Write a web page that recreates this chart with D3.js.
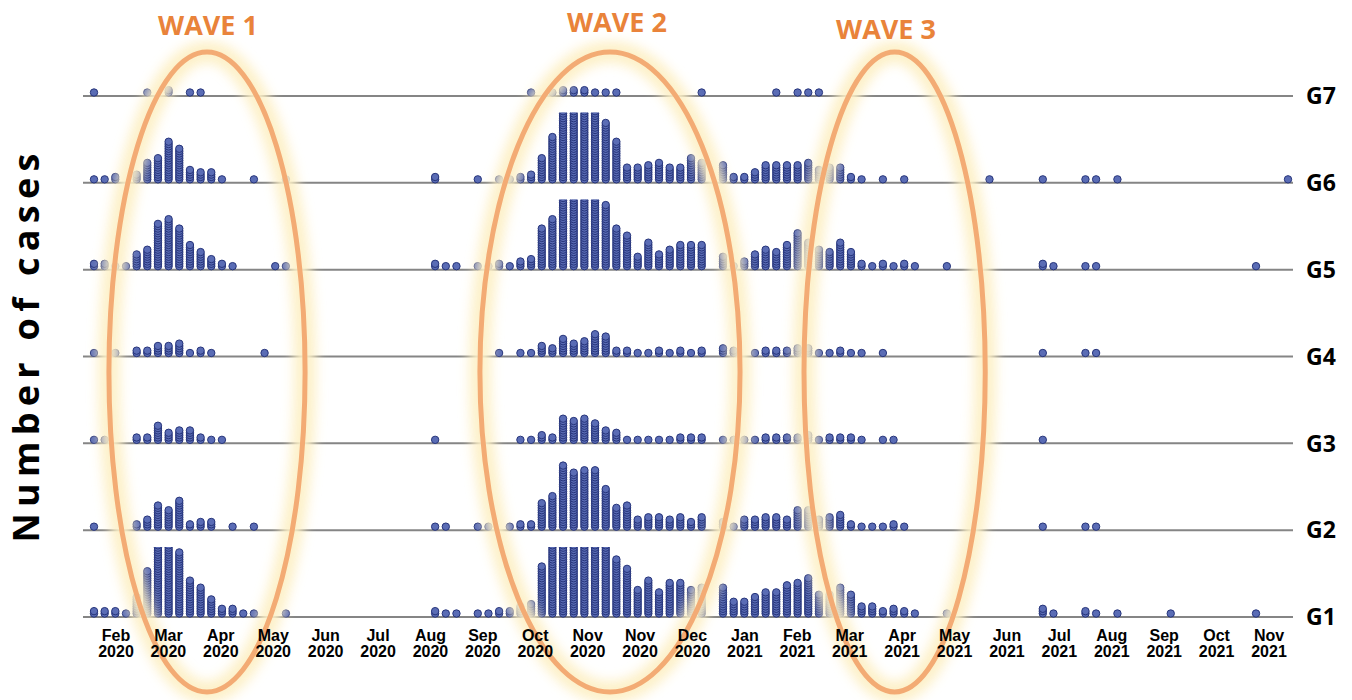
<!DOCTYPE html>
<html>
<head>
<meta charset="utf-8">
<script src="https://cdn.jsdelivr.net/npm/d3@7"></script>
<style>
  body { margin: 0; background: #fff; }
  svg { display: block; }
</style>
</head>
<body>
<script>
// groups, bottom to top
const groups = ["G1", "G2", "G3", "G4", "G5", "G6", "G7"];

// weekly case counts per group: [week index, cases]
const g1 = [[0,2],[1,2],[2,2],[3,1],[4,8],[5,19],[6,30],[7,30],[8,27],[9,15],[10,12],[11,7],[12,3],[13,3],[14,1],[15,1],[18,1],[32,2],[33,1],[34,1],[36,1],[37,1],[38,2],[39,2],[40,4],[41,5],[42,21],[43,30],[44,30],[45,30],[46,30],[47,30],[48,30],[49,24],[50,20],[51,11],[52,15],[53,10],[54,14],[55,14],[56,11],[57,12],[59,12],[60,6],[61,6],[62,8],[63,10],[64,10],[65,13],[66,14],[67,16],[68,9],[69,9],[70,12],[71,9],[72,4],[73,4],[74,2],[75,3],[76,2],[77,1],[80,1],[89,3],[90,1],[93,2],[94,1],[96,1],[101,1],[109,1]];
const g2 = [[0,1],[4,2],[5,4],[6,10],[7,8],[8,12],[9,2],[10,3],[11,3],[13,1],[15,1],[32,1],[33,1],[36,1],[37,1],[39,1],[40,2],[41,2],[42,11],[43,14],[44,27],[45,24],[46,25],[47,25],[48,17],[49,9],[50,10],[51,4],[52,5],[53,5],[54,4],[55,5],[56,3],[57,5],[59,3],[60,1],[61,4],[62,4],[63,5],[64,5],[65,4],[66,8],[67,8],[68,4],[69,5],[70,6],[71,2],[72,1],[73,1],[74,1],[75,2],[76,1],[89,1],[93,1],[94,1]];
const g3 = [[0,1],[1,1],[4,2],[5,2],[6,7],[7,4],[8,5],[9,5],[10,2],[11,1],[12,1],[32,1],[40,1],[41,1],[42,3],[43,2],[44,10],[45,9],[46,10],[47,8],[48,5],[49,4],[50,1],[51,1],[52,1],[53,1],[54,1],[55,2],[56,2],[57,2],[59,1],[60,1],[61,1],[62,1],[63,2],[64,2],[65,2],[66,2],[67,3],[68,1],[69,2],[70,2],[71,2],[72,1],[74,1],[75,1],[89,1]];
const g4 = [[0,1],[2,1],[4,2],[5,2],[6,4],[7,4],[8,5],[9,1],[10,2],[11,1],[16,1],[38,1],[40,1],[41,1],[42,4],[43,3],[44,7],[45,5],[46,6],[47,9],[48,8],[49,2],[50,2],[51,1],[52,1],[53,2],[54,1],[55,2],[56,1],[57,2],[59,3],[60,2],[62,1],[63,2],[64,2],[65,2],[66,3],[67,3],[68,1],[69,1],[70,2],[71,1],[72,1],[74,1],[89,1],[93,1],[94,1]];
const g5 = [[0,2],[1,2],[2,1],[3,1],[4,6],[5,8],[6,19],[7,21],[8,17],[9,10],[10,7],[11,4],[12,2],[13,1],[17,1],[18,1],[32,2],[33,1],[34,1],[36,1],[37,1],[38,2],[39,1],[40,3],[41,4],[42,17],[43,21],[44,30],[45,30],[46,30],[47,30],[48,27],[49,17],[50,14],[51,5],[52,11],[53,6],[54,8],[55,10],[56,10],[57,10],[59,5],[60,1],[61,3],[62,6],[63,8],[64,7],[65,10],[66,15],[67,11],[68,8],[69,7],[70,11],[71,7],[72,2],[73,1],[74,2],[75,1],[76,2],[77,1],[80,1],[89,2],[90,1],[93,1],[94,1],[109,1]];
const g6 = [[0,1],[1,1],[2,2],[4,3],[5,8],[6,10],[7,17],[8,14],[9,5],[10,4],[11,4],[12,1],[15,1],[18,1],[32,2],[36,1],[38,1],[39,1],[40,2],[41,3],[42,10],[43,19],[44,30],[45,30],[46,30],[47,30],[48,25],[49,17],[50,6],[51,6],[52,7],[53,8],[54,6],[55,6],[56,10],[57,8],[59,7],[60,2],[61,2],[62,4],[63,7],[64,7],[65,7],[66,7],[67,8],[68,5],[69,6],[70,6],[71,2],[72,1],[74,1],[76,1],[84,1],[89,1],[93,1],[94,1],[96,1],[112,1]];
const g7 = [[0,1],[5,1],[7,2],[9,1],[10,1],[41,1],[43,1],[44,2],[45,2],[46,2],[47,1],[48,1],[49,1],[57,1],[64,1],[66,1],[67,1],[68,1]];
const series = [g1, g2, g3, g4, g5, g6, g7];

// x axis tick labels (as printed)
const monthLabels = ["Feb","Mar","Apr","May","Jun","Jul","Aug","Sep","Oct","Nov","Nov","Dec","Jan","Feb","Mar","Apr","May","Jun","Jul","Aug","Sep","Oct","Nov"];
const yearLabels  = ["2020","2020","2020","2020","2020","2020","2020","2020","2020","2020","2020","2020","2021","2021","2021","2021","2021","2021","2021","2021","2021","2021","2021"];

// wave annotations: centre week and half width in weeks
const waves = ["WAVE 1", "WAVE 2", "WAVE 3"];
const waveCenter = [10.6, 48.4, 75.1];
const waveHalf = [9.2, 12.2, 8.5];

const width = 1352, height = 700;
const maxShown = 70; // stacks are cut at this height

const svg = d3.select("body").append("svg")
  .attr("width", width)
  .attr("height", height);

const defs = svg.append("defs");
defs.append("filter")
  .attr("id", "glow")
  .attr("x", "-30%").attr("y", "-10%")
  .attr("width", "160%").attr("height", "120%")
  .append("feGaussianBlur")
  .attr("stdDeviation", 6);

const x = d3.scaleLinear().domain([0, 112]).range([94, 1288]);
const y = d3.scalePoint().domain(groups).range([617, 96]);
const stack = d3.scaleLinear().domain([0, 1]).range([3.5, 5.85]);
const tickX = d3.scalePoint().domain(d3.range(monthLabels.length)).range([116, 1269]);

// baselines
svg.append("g")
  .selectAll("line")
  .data(groups)
  .join("line")
  .attr("x1", 83)
  .attr("x2", 1293)
  .attr("y1", d => y(d))
  .attr("y2", d => y(d))
  .attr("stroke", "#858585")
  .attr("stroke-width", 2);

// dot stacks, one group per row, clipped at the top
groups.forEach((g, i) => {
  defs.append("clipPath")
    .attr("id", `clip_${g}`)
    .append("rect")
    .attr("x", 0)
    .attr("y", y(g) - maxShown)
    .attr("width", width)
    .attr("height", maxShown + 10);

  const dots = [];
  series[i].forEach(([w, n]) => {
    for (let k = 0; k < n; k++) dots.push({ w, k });
  });

  svg.append("g")
    .attr("clip-path", `url(#clip_${g})`)
    .selectAll("circle")
    .data(dots)
    .join("circle")
    .attr("cx", d => x(d.w))
    .attr("cy", d => y(g) - stack(d.k))
    .attr("r", 3.7)
    .attr("fill", "#5a6cb5")
    .attr("stroke", "#26347a")
    .attr("stroke-width", 1);
});

// wave ellipses with soft glow
const ell = svg.append("g");
waves.forEach((w, i) => {
  const cx = x(waveCenter[i]);
  const rx = x(waveCenter[i] + waveHalf[i]) - cx;
  ell.append("ellipse")
    .attr("cx", cx).attr("cy", 372)
    .attr("rx", rx).attr("ry", 320)
    .attr("fill", "none")
    .attr("stroke", "#fdf0c6")
    .attr("stroke-width", 22)
    .attr("opacity", 0.95)
    .attr("filter", "url(#glow)");
});
waves.forEach((w, i) => {
  const cx = x(waveCenter[i]);
  const rx = x(waveCenter[i] + waveHalf[i]) - cx;
  ell.append("ellipse")
    .attr("cx", cx).attr("cy", 372)
    .attr("rx", rx).attr("ry", 320)
    .attr("fill", "none")
    .attr("stroke", "#f3ab74")
    .attr("stroke-width", 5);
});

// wave titles
const titleY = [35, 32, 39];
const titleX = [208, 617, 886];
svg.append("g")
  .selectAll("text")
  .data(waves)
  .join("text")
  .attr("x", (d, i) => titleX[i])
  .attr("y", (d, i) => titleY[i])
  .attr("text-anchor", "middle")
  .attr("fill", "#e9833a")
  .style("font-family", "'Open Sans', sans-serif")
  .style("font-weight", 700)
  .style("font-size", "27px")
  .text(d => d);

// x tick labels
const ticks = svg.append("g")
  .style("font-family", "'Liberation Sans', Arial, sans-serif")
  .style("font-weight", 700)
  .style("font-size", "16px")
  .attr("text-anchor", "middle")
  .attr("fill", "#000");
ticks.selectAll("text.m")
  .data(monthLabels)
  .join("text")
  .attr("class", "m")
  .attr("x", (d, i) => tickX(i))
  .attr("y", 641)
  .text(d => d);
ticks.selectAll("text.yr")
  .data(yearLabels)
  .join("text")
  .attr("class", "yr")
  .attr("x", (d, i) => tickX(i))
  .attr("y", 657)
  .text(d => d);

// group labels
svg.append("g")
  .selectAll("text")
  .data(groups)
  .join("text")
  .attr("x", 1306)
  .attr("y", d => y(d))
  .attr("dy", "0.36em")
  .attr("fill", "#000")
  .style("font-family", "'Open Sans', sans-serif")
  .style("font-weight", 700)
  .style("font-size", "23px")
  .text(d => d);

// y title
svg.append("text")
  .attr("transform", "translate(39,348) rotate(-90)")
  .attr("text-anchor", "middle")
  .attr("textLength", 389)
  .attr("lengthAdjust", "spacing")
  .attr("fill", "#000")
  .style("font-family", "'Open Sans', sans-serif")
  .style("font-weight", 700)
  .style("font-size", "36px")
  .text("Number of cases");
</script>
</body>
</html>
